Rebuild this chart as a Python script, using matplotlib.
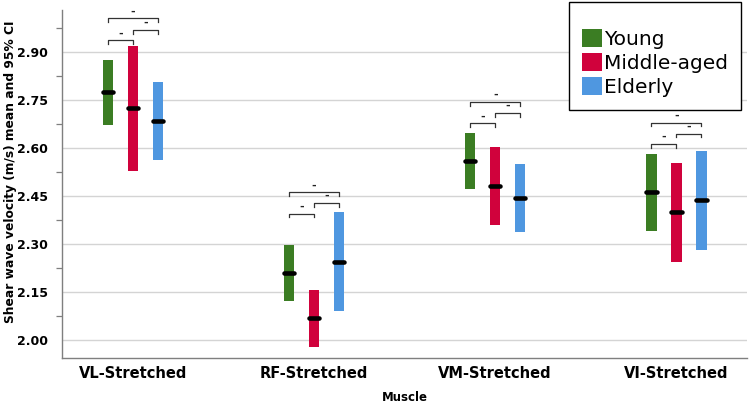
import matplotlib.pyplot as plt
from matplotlib.patches import Patch

# datos
muscles = ['VL-Stretched', 'RF-Stretched', 'VM-Stretched', 'VI-Stretched']
groups = ['Young', 'Middle-aged', 'Elderly']
colors = ['#3b7d23', '#d0023c', '#4f97e0']

young_mean = [2.775, 2.210, 2.559, 2.461]
young_lo = [2.673, 2.121, 2.471, 2.341]
young_hi = [2.874, 2.297, 2.647, 2.582]

mid_mean = [2.724, 2.068, 2.480, 2.399]
mid_lo = [2.529, 1.980, 2.358, 2.244]
mid_hi = [2.917, 2.156, 2.603, 2.554]

old_mean = [2.683, 2.245, 2.445, 2.436]
old_lo = [2.561, 2.091, 2.337, 2.280]
old_hi = [2.806, 2.399, 2.551, 2.591]

# alturas de los corchetes de comparacion
brk_young_mid = [2.936, 2.395, 2.677, 2.613]
brk_mid_old = [2.969, 2.428, 2.710, 2.645]
brk_young_old = [3.005, 2.461, 2.743, 2.679]

yticks = [2.00, 2.15, 2.30, 2.45, 2.60, 2.75, 2.90]

series = [(young_mean, young_lo, young_hi),
          (mid_mean, mid_lo, mid_hi),
          (old_mean, old_lo, old_hi)]
offsets = [-0.138, 0.0, 0.138]
barw = 0.058

fig = plt.figure(figsize=(7.5, 4.07), dpi=100)
ax = fig.add_axes([0.0827, 0.121, 0.913, 0.854])

for k, (m, lo, hi) in enumerate(series):
    xs = [i + offsets[k] for i in range(len(muscles))]
    ax.bar(xs, [h - l for h, l in zip(hi, lo)], bottom=lo, width=barw,
           color=colors[k], zorder=3)
    for x, v in zip(xs, m):
        ax.plot([x - 0.029, x + 0.029], [v, v], color='black', lw=3.3,
                solid_capstyle='round', zorder=4)

# corchetes
tick = 0.012
def corchete(x1, x2, y):
    ax.plot([x1, x1, x2, x2], [y - tick, y, y, y - tick], color='#333333',
            lw=0.9, zorder=4, clip_on=False)
    ax.text((x1 + x2) / 2, y + 0.006, '-', ha='center', va='bottom',
            fontsize=8, fontweight='bold', color='#222222')

for i in range(len(muscles)):
    corchete(i + offsets[0], i + offsets[1], brk_young_mid[i])
    corchete(i + offsets[1], i + offsets[2], brk_mid_old[i])
    corchete(i + offsets[0], i + offsets[2], brk_young_old[i])

ax.set_xlim(-0.392, 3.389)
ax.set_ylim(1.945, 3.03)
ax.set_yticks(yticks)
ax.set_yticks([v + 0.075 for v in yticks], minor=True)
ax.set_yticklabels(['%.2f' % v for v in yticks], fontsize=9, fontweight='bold')
ax.tick_params(axis='y', which='major', length=0, pad=10)
ax.tick_params(axis='y', which='minor', length=4, color='#7f7f7f', width=0.9)
ax.set_xticks(range(len(muscles)))
ax.set_xticklabels(muscles, fontsize=10.5, fontweight='bold')
ax.tick_params(axis='x', length=0, pad=6)
ax.grid(True, axis='y', color='#d4d4d4', lw=1, zorder=0)
ax.set_axisbelow(True)
for s in ['top', 'right']:
    ax.spines[s].set_visible(False)
for s in ['left', 'bottom']:
    ax.spines[s].set_color('#7f7f7f')
    ax.spines[s].set_linewidth(1)

ax.set_ylabel('Shear wave velocity (m/s) mean and 95% CI', fontsize=8.8,
              fontweight='bold')
ax.yaxis.set_label_coords(-0.066, 0.534)
ax.set_xlabel('Muscle', fontsize=8.5, fontweight='bold', labelpad=7)

handles = [Patch(facecolor=c, edgecolor='none') for c in colors]
leg = fig.legend(handles, groups, loc='upper right',
                 bbox_to_anchor=(741 / 750, 1 - 2 / 407), fontsize=14.5,
                 title=' ', title_fontsize=7, frameon=True, fancybox=False,
                 framealpha=1, edgecolor='black', handlelength=1.0,
                 handleheight=1.0, labelspacing=0.2, handletextpad=0.1,
                 borderpad=0.65, borderaxespad=0)
leg.get_frame().set_linewidth(1)

fig.savefig('out.png', dpi=100)
